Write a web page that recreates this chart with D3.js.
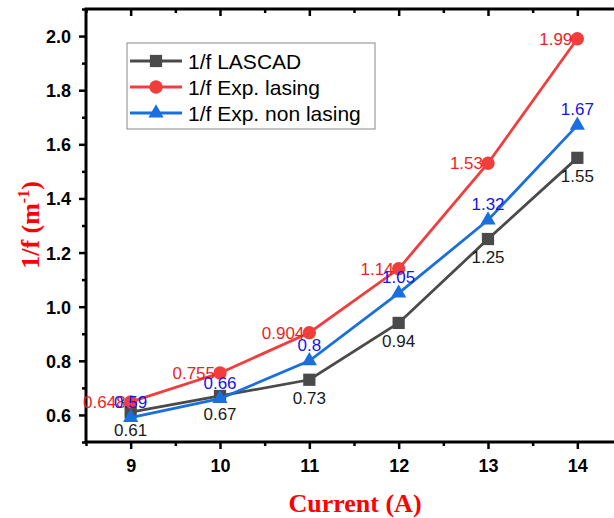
<!DOCTYPE html>
<html>
<head>
<meta charset="utf-8">
<script src="https://cdn.jsdelivr.net/npm/d3@7"></script>
<style>
  body { margin: 0; background: #fff; }
  svg { display: block; }
  .tick text { font-family: "Liberation Sans", Arial, sans-serif; font-weight: bold; font-size: 18px; fill: #000; }
</style>
</head>
<body>
<svg width="614" height="518"></svg>
<script>
// data
var currents = [9, 10, 11, 12, 13, 14];
var lascad = [0.61, 0.67, 0.73, 0.94, 1.25, 1.55];
var expLasing = [0.648, 0.755, 0.904, 1.14, 1.53, 1.99];
var expNonLasing = [0.59, 0.66, 0.8, 1.05, 1.32, 1.67];
var xTicks = [9, 10, 11, 12, 13, 14];
var yTicks = [0.6, 0.8, 1.0, 1.2, 1.4, 1.6, 1.8, 2.0];

var svg = d3.select("svg"),
    plotLeft = 86, plotRight = 622, plotTop = 9, plotBottom = 442;

var x = d3.scaleLinear().domain([8.5, 14.5]).range([plotLeft, plotRight]),
    y = d3.scaleLinear().domain([0.5, 2.1]).range([plotBottom, plotTop]);

var series = [
  { name: "1/f LASCAD", values: lascad, color: "#4a4a4a", text: "#1a1a1a", symbol: d3.symbolSquare, size: 150, label: "below" },
  { name: "1/f Exp. lasing", values: expLasing, color: "#f23d3d", text: "#f21d1d", symbol: d3.symbolCircle, size: 140, label: "left" },
  { name: "1/f Exp. non lasing", values: expNonLasing, color: "#1a6fdf", text: "#1414f0", symbol: d3.symbolTriangle, size: 100, label: "above" }
];

// minor ticks
var xMinor = d3.range(8.5, 14.6, 1);
var yMinor = d3.range(0.5, 2.11, 0.2).map(d => +d.toFixed(1));

function styleAxis(g) {
  g.select(".domain").remove();
  g.selectAll(".tick line").attr("stroke", "#000").attr("stroke-width", 2.5);
}

// bottom axis
svg.append("g")
  .attr("transform", `translate(0,${plotBottom})`)
  .call(d3.axisBottom(x).tickValues(xTicks).tickFormat(d3.format("d")).tickSize(7).tickPadding(10))
  .call(styleAxis);
svg.append("g")
  .attr("transform", `translate(0,${plotBottom})`)
  .call(d3.axisBottom(x).tickValues(xMinor).tickFormat("").tickSize(4))
  .call(styleAxis);

// left axis
svg.append("g")
  .attr("transform", `translate(${plotLeft},0)`)
  .call(d3.axisLeft(y).tickValues(yTicks).tickFormat(d3.format(".1f")).tickSize(7).tickPadding(8))
  .call(styleAxis)
  .selectAll("text").attr("dy", "0.36em");
svg.append("g")
  .attr("transform", `translate(${plotLeft},0)`)
  .call(d3.axisLeft(y).tickValues(yMinor).tickFormat("").tickSize(4))
  .call(styleAxis);

// top axis (ticks inward)
svg.append("g")
  .attr("transform", `translate(0,${plotTop})`)
  .call(d3.axisBottom(x).tickValues(xTicks).tickFormat("").tickSize(7))
  .call(styleAxis);
svg.append("g")
  .attr("transform", `translate(0,${plotTop})`)
  .call(d3.axisBottom(x).tickValues(xMinor).tickFormat("").tickSize(4))
  .call(styleAxis);

// frame
svg.append("rect")
  .attr("x", plotLeft).attr("y", plotTop)
  .attr("width", plotRight - plotLeft).attr("height", plotBottom - plotTop)
  .attr("fill", "none").attr("stroke", "#000").attr("stroke-width", 3);

// lines and markers
var line = d3.line().x((d, i) => x(currents[i])).y(d => y(d));

series.forEach(function (s) {
  svg.append("path")
    .datum(s.values)
    .attr("fill", "none")
    .attr("stroke", s.color)
    .attr("stroke-width", 2.8)
    .attr("d", line);

  svg.selectAll(null)
    .data(s.values)
    .enter().append("path")
    .attr("transform", (d, i) => `translate(${x(currents[i])},${y(d)})`)
    .attr("d", d3.symbol().type(s.symbol).size(s.size))
    .attr("fill", s.color);
});

// value labels
series.forEach(function (s) {
  svg.selectAll(null)
    .data(s.values)
    .enter().append("text")
    .attr("font-family", "'Liberation Sans', Arial, sans-serif")
    .attr("font-size", 17)
    .attr("fill", s.text)
    .attr("x", (d, i) => s.label == "left" ? x(currents[i]) - 5 : x(currents[i]))
    .attr("y", function (d) {
      if (s.label == "below") return y(d) + 24;
      if (s.label == "above") return y(d) - 10;
      return y(d);
    })
    .attr("dy", s.label == "left" ? "0.36em" : 0)
    .attr("text-anchor", s.label == "left" ? "end" : "middle")
    .text(d => d);
});

// legend
var legend = svg.append("g");
legend.append("rect")
  .attr("x", 127).attr("y", 43)
  .attr("width", 248).attr("height", 86)
  .attr("fill", "#fff").attr("stroke", "#8a8a8a").attr("stroke-width", 1);

series.forEach(function (s, i) {
  var ly = 61 + i * 26;
  legend.append("line")
    .attr("x1", 130).attr("x2", 182)
    .attr("y1", ly).attr("y2", ly)
    .attr("stroke", s.color).attr("stroke-width", 2.8);
  legend.append("path")
    .attr("transform", `translate(156,${ly})`)
    .attr("d", d3.symbol().type(s.symbol).size(s.size))
    .attr("fill", s.color);
  legend.append("text")
    .attr("x", 188).attr("y", ly)
    .attr("dy", "0.36em")
    .attr("font-family", "'Liberation Sans', Arial, sans-serif")
    .attr("font-size", 21)
    .attr("fill", "#000")
    .text(s.name);
});

// axis titles
svg.append("text")
  .attr("x", 355).attr("y", 512)
  .attr("text-anchor", "middle")
  .attr("font-family", "'Liberation Serif', 'Times New Roman', serif")
  .attr("font-weight", "bold")
  .attr("font-size", 26)
  .attr("fill", "#ff0000")
  .text("Current (A)");

var yt = svg.append("text")
  .attr("transform", "translate(39,225) rotate(-90)")
  .attr("text-anchor", "middle")
  .attr("font-family", "'Liberation Serif', 'Times New Roman', serif")
  .attr("font-weight", "bold")
  .attr("font-size", 26)
  .attr("fill", "#ff0000");
yt.append("tspan").text("1/f (m");
yt.append("tspan").attr("font-size", 16).attr("dy", -10).text("-1");
yt.append("tspan").attr("dy", 10).text(")");
</script>
</body>
</html>
